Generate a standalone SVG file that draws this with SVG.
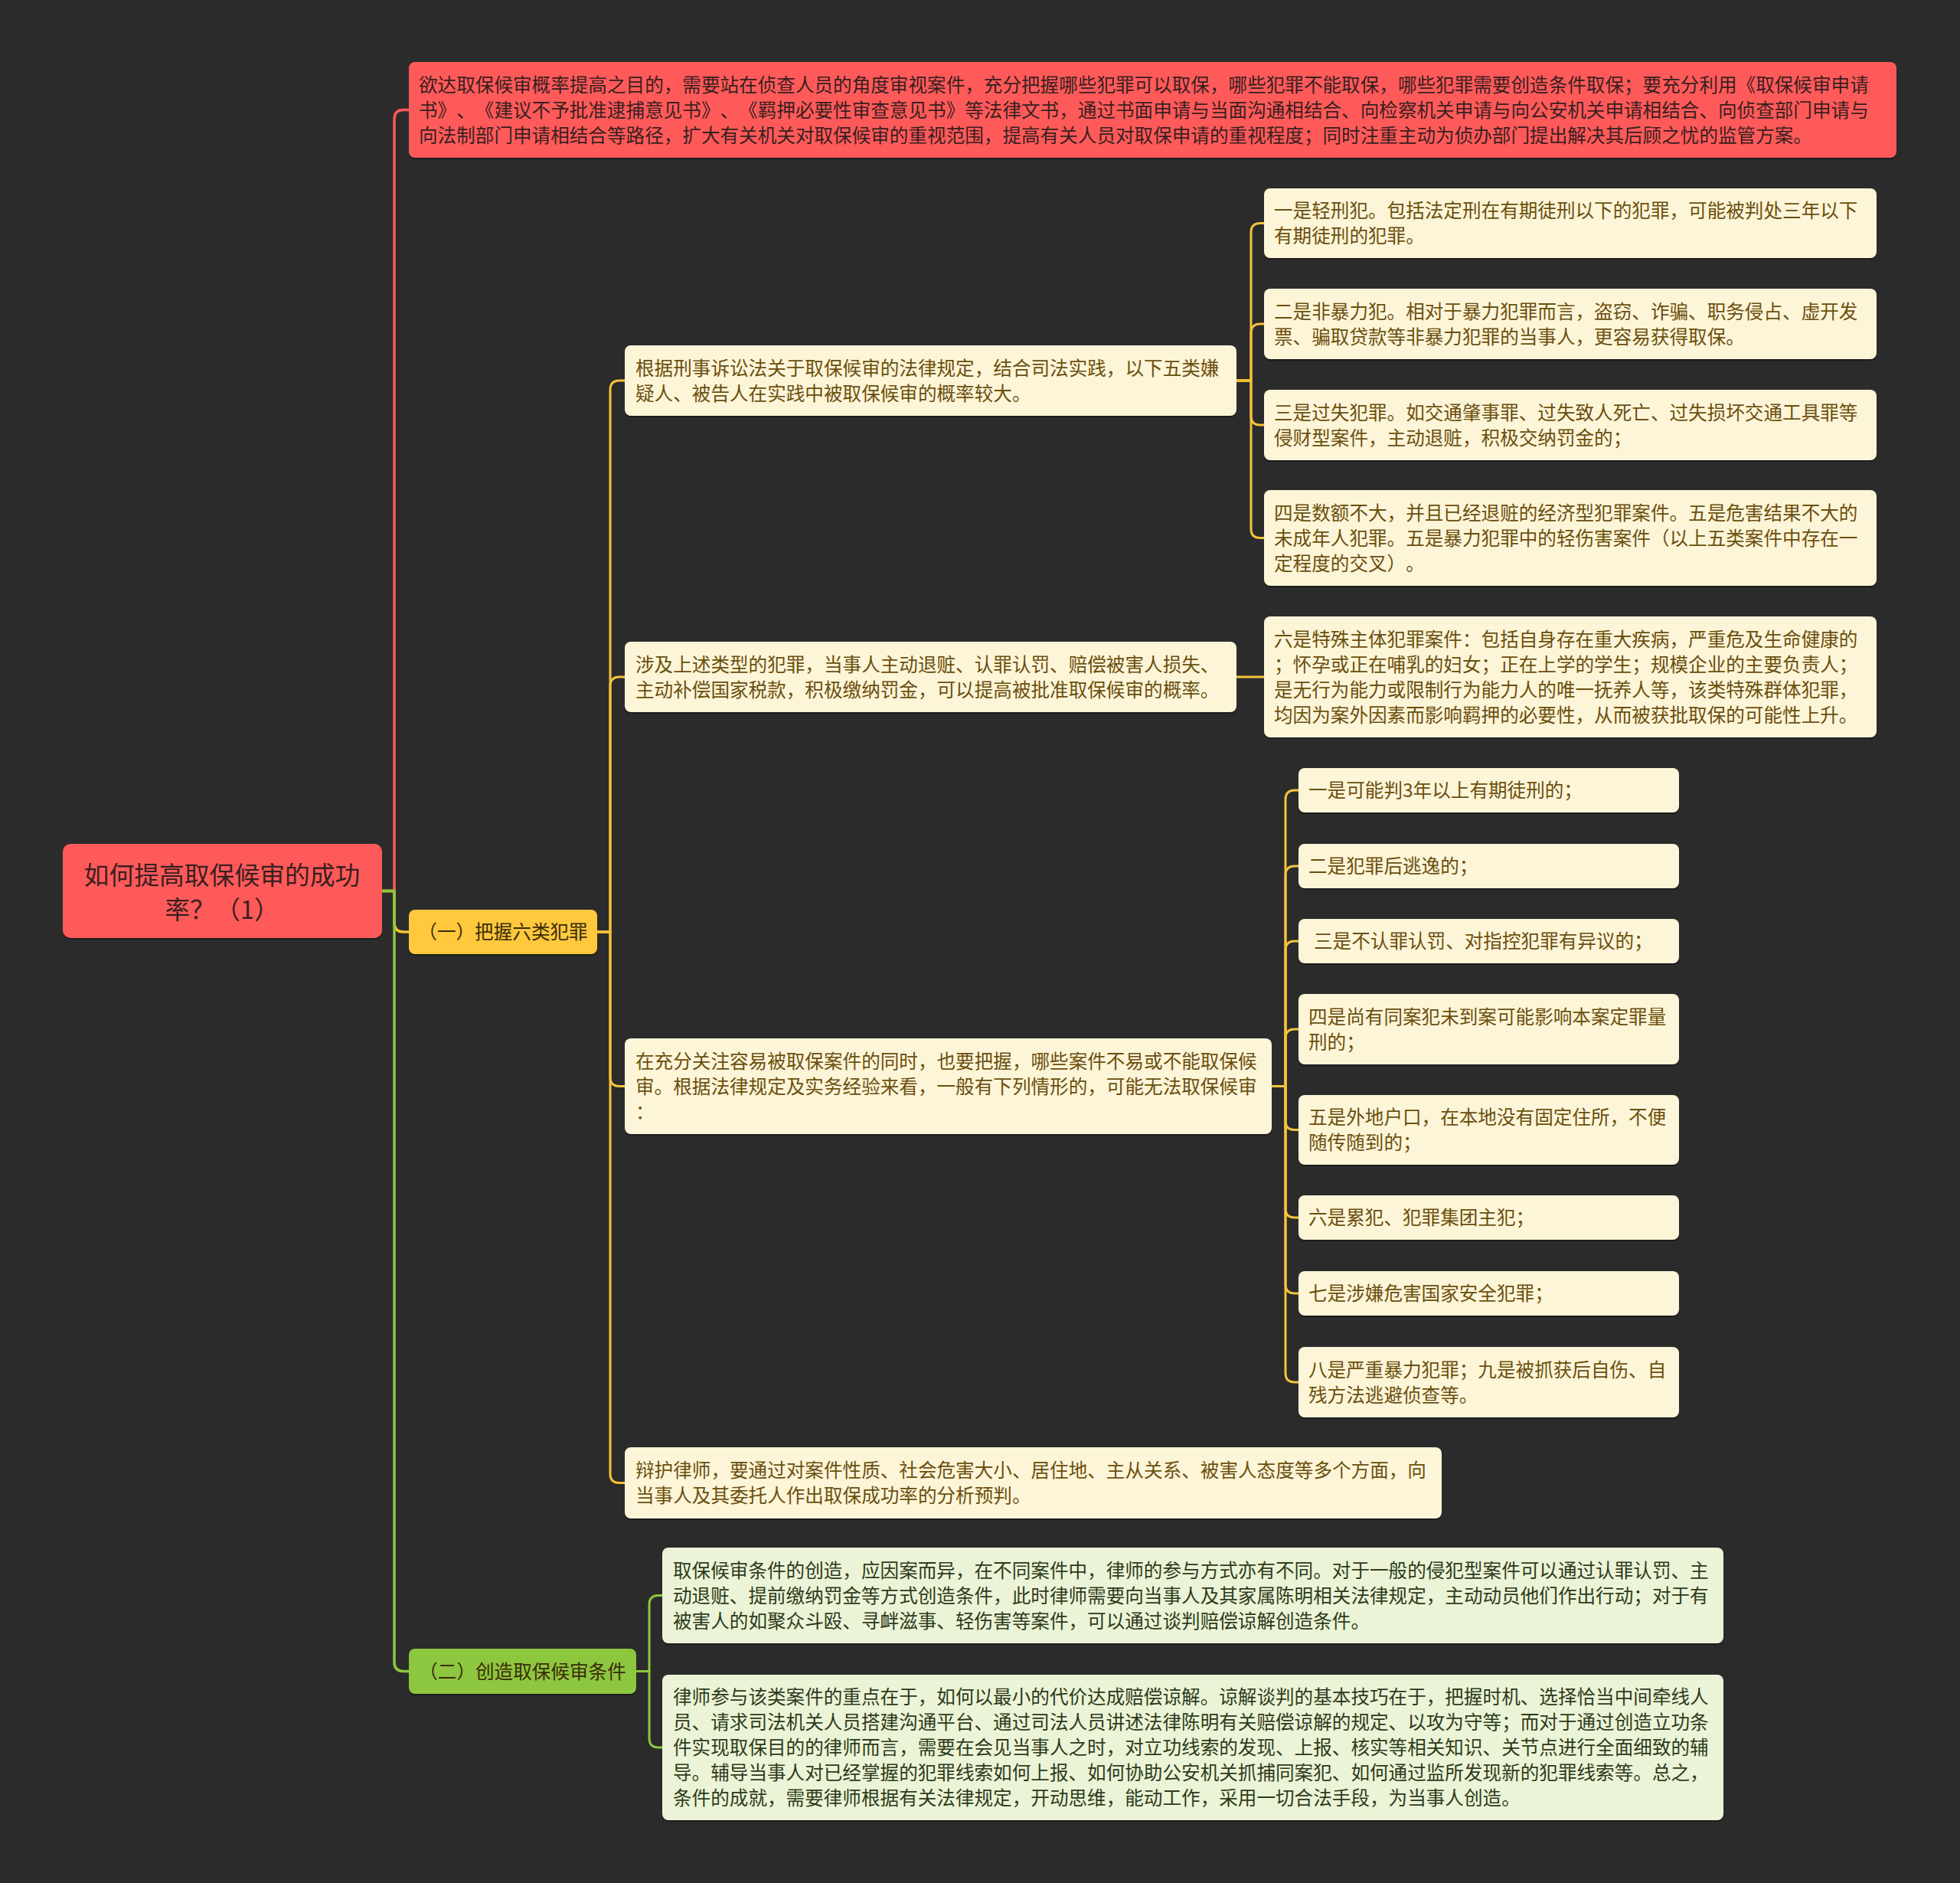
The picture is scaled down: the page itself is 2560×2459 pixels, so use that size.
<svg xmlns="http://www.w3.org/2000/svg" width="2560" height="2459" viewBox="0 0 2560 2459">
<style>
text{font-family:"Noto Sans CJK SC","Noto Sans",sans-serif;font-size:24.6px;text-spacing-trim:space-all;font-kerning:none;font-feature-settings:"palt" 0,"halt" 0,"chws" 0}
.root{font-size:32.8px;fill:#3a1f1f}
.tr{fill:#3a1f1f}
.ty{fill:#3b2c08}
.tc{fill:#6b4f0e}
.tg{fill:#2e3a1c}
.sh{fill:#1b1b1b}
.red{fill:#ff5a5a}
.yel{fill:#ffc83d}
.grn{fill:#8dc63f}
.crm{fill:#fdf5d8}
.lgr{fill:#ebf4d6}
.c{fill:none;stroke-width:3;stroke-linejoin:round}
.cr{stroke:#ff5a5a;stroke-width:3.5}
.cy{stroke:#f5c33b}
.cg{stroke:#8dc63f;stroke-width:3.5}
</style>
<rect x="0" y="0" width="2560" height="2459" fill="#2b2b2b"/>

<g id="connectors">
  <path class="c cr" d="M499,1163.5 H515 V155.5 Q515,143.5 527,143.5 H534"/>
  <path class="c cy" style="stroke-width:3.5" d="M499,1163.5 H515 V1205 Q515,1217 527,1217 H534"/>
  <path class="c cg" d="M499,1163.5 H515 V2170.5 Q515,2182.5 527,2182.5 H534"/>

  <path class="c cy" d="M780,1217 H797 V509 Q797,497 809,497 H816"/>
  <path class="c cy" d="M780,1217 H797 V896 Q797,884 809,884 H816"/>
  <path class="c cy" d="M780,1217 H797 V1406.5 Q797,1418.5 809,1418.5 H816"/>
  <path class="c cy" d="M780,1217 H797 V1924.5 Q797,1936.5 809,1936.5 H816"/>

  <path class="c cy" d="M1615,497 H1634 V303.5 Q1634,291.5 1646,291.5 H1651"/>
  <path class="c cy" d="M1615,497 H1634 V435 Q1634,423 1646,423 H1651"/>
  <path class="c cy" d="M1615,497 H1634 V543 Q1634,555 1646,555 H1651"/>
  <path class="c cy" d="M1615,497 H1634 V690.5 Q1634,702.5 1646,702.5 H1651"/>

  <path class="c cy" d="M1615,884 H1651"/>

  <path class="c cy" d="M1661,1418.5 H1679 V1044 Q1679,1032 1691,1032 H1696"/>
  <path class="c cy" d="M1661,1418.5 H1679 V1143 Q1679,1131 1691,1131 H1696"/>
  <path class="c cy" d="M1661,1418.5 H1679 V1241 Q1679,1229 1691,1229 H1696"/>
  <path class="c cy" d="M1661,1418.5 H1679 V1356 Q1679,1344 1691,1344 H1696"/>
  <path class="c cy" d="M1661,1418.5 H1679 V1463.5 Q1679,1475.5 1691,1475.5 H1696"/>
  <path class="c cy" d="M1661,1418.5 H1679 V1578 Q1679,1590 1691,1590 H1696"/>
  <path class="c cy" d="M1661,1418.5 H1679 V1677 Q1679,1689 1691,1689 H1696"/>
  <path class="c cy" d="M1661,1418.5 H1679 V1793 Q1679,1805 1691,1805 H1696"/>

  <path class="c cg" style="stroke-width:3" d="M831,2182.5 H848 V2095.5 Q848,2083.5 860,2083.5 H865"/>
  <path class="c cg" style="stroke-width:3" d="M831,2182.5 H848 V2270 Q848,2282 860,2282 H865"/>
</g>

<g id="root">
  <rect class="sh" x="82" y="1104" width="417" height="123" rx="10"/>
  <rect class="red" x="82" y="1102" width="417" height="123" rx="10"/>
  <text class="root" x="290" y="1155" text-anchor="middle">如何提高取保候审的成功</text>
  <text class="root" x="290" y="1200" text-anchor="middle">率？（1）</text>
</g>

<g id="top-note">
  <rect class="sh" x="534" y="83" width="1943" height="125" rx="8"/>
  <rect class="red" x="534" y="81" width="1943" height="125" rx="8"/>
  <text class="tr" x="547" y="119.5">欲达取保候审概率提高之目的，需要站在侦查人员的角度审视案件，充分把握哪些犯罪可以取保，哪些犯罪不能取保，哪些犯罪需要创造条件取保；要充分利用《取保候审申请</text>
  <text class="tr" x="547" y="152.5">书》、《建议不予批准逮捕意见书》、《羁押必要性审查意见书》等法律文书，通过书面申请与当面沟通相结合、向检察机关申请与向公安机关申请相结合、向侦查部门申请与</text>
  <text class="tr" x="547" y="185.5">向法制部门申请相结合等路径，扩大有关机关对取保候审的重视范围，提高有关人员对取保申请的重视程度；同时注重主动为侦办部门提出解决其后顾之忧的监管方案。</text>
</g>

<g id="branch1">
  <rect class="sh" x="534" y="1190" width="246" height="58" rx="8"/>
  <rect class="yel" x="534" y="1188" width="246" height="58" rx="8"/>
  <text class="ty" x="657" y="1226" text-anchor="middle">（一）把握六类犯罪</text>
</g>

<g id="branch2">
  <rect class="sh" x="534" y="2155" width="297" height="59" rx="8"/>
  <rect class="grn" x="534" y="2153" width="297" height="59" rx="8"/>
  <text class="ty" x="682.5" y="2191.5" text-anchor="middle">（二）创造取保候审条件</text>
</g>

<g id="nodeA">
  <rect class="sh" x="816" y="453" width="799" height="92" rx="8"/>
  <rect class="crm" x="816" y="451" width="799" height="92" rx="8"/>
  <text class="tc" x="830" y="489.5">根据刑事诉讼法关于取保候审的法律规定，结合司法实践，以下五类嫌</text>
  <text class="tc" x="830" y="522.5">疑人、被告人在实践中被取保候审的概率较大。</text>
</g>

<g id="nodeA1">
  <rect class="sh" x="1651" y="248" width="800" height="91" rx="8"/>
  <rect class="crm" x="1651" y="246" width="800" height="91" rx="8"/>
  <text class="tc" x="1664" y="284">一是轻刑犯。包括法定刑在有期徒刑以下的犯罪，可能被判处三年以下</text>
  <text class="tc" x="1664" y="317">有期徒刑的犯罪。</text>
</g>

<g id="nodeA2">
  <rect class="sh" x="1651" y="379" width="800" height="92" rx="8"/>
  <rect class="crm" x="1651" y="377" width="800" height="92" rx="8"/>
  <text class="tc" x="1664" y="415.5">二是非暴力犯。相对于暴力犯罪而言，盗窃、诈骗、职务侵占、虚开发</text>
  <text class="tc" x="1664" y="448.5">票、骗取贷款等非暴力犯罪的当事人，更容易获得取保。</text>
</g>

<g id="nodeA3">
  <rect class="sh" x="1651" y="511" width="800" height="92" rx="8"/>
  <rect class="crm" x="1651" y="509" width="800" height="92" rx="8"/>
  <text class="tc" x="1664" y="547.5">三是过失犯罪。如交通肇事罪、过失致人死亡、过失损坏交通工具罪等</text>
  <text class="tc" x="1664" y="580.5">侵财型案件，主动退赃，积极交纳罚金的；</text>
</g>

<g id="nodeA4">
  <rect class="sh" x="1651" y="642" width="800" height="125" rx="8"/>
  <rect class="crm" x="1651" y="640" width="800" height="125" rx="8"/>
  <text class="tc" x="1664" y="678.5">四是数额不大，并且已经退赃的经济型犯罪案件。五是危害结果不大的</text>
  <text class="tc" x="1664" y="711.5">未成年人犯罪。五是暴力犯罪中的轻伤害案件（以上五类案件中存在一</text>
  <text class="tc" x="1664" y="744.5">定程度的交叉）。</text>
</g>

<g id="nodeB">
  <rect class="sh" x="816" y="840" width="799" height="92" rx="8"/>
  <rect class="crm" x="816" y="838" width="799" height="92" rx="8"/>
  <text class="tc" x="830" y="876.5">涉及上述类型的犯罪，当事人主动退赃、认罪认罚、赔偿被害人损失、</text>
  <text class="tc" x="830" y="909.5">主动补偿国家税款，积极缴纳罚金，可以提高被批准取保候审的概率。</text>
</g>

<g id="nodeB1">
  <rect class="sh" x="1651" y="807" width="800" height="158" rx="8"/>
  <rect class="crm" x="1651" y="805" width="800" height="158" rx="8"/>
  <text class="tc" x="1664" y="843.5">六是特殊主体犯罪案件：包括自身存在重大疾病，严重危及生命健康的</text>
  <text class="tc" x="1664" y="876.5">；怀孕或正在哺乳的妇女；正在上学的学生；规模企业的主要负责人；</text>
  <text class="tc" x="1664" y="909.5">是无行为能力或限制行为能力人的唯一抚养人等，该类特殊群体犯罪，</text>
  <text class="tc" x="1664" y="942.5">均因为案外因素而影响羁押的必要性，从而被获批取保的可能性上升。</text>
</g>

<g id="nodeC">
  <rect class="sh" x="816" y="1358" width="845" height="125" rx="8"/>
  <rect class="crm" x="816" y="1356" width="845" height="125" rx="8"/>
  <text class="tc" x="830" y="1394.5">在充分关注容易被取保案件的同时，也要把握，哪些案件不易或不能取保候</text>
  <text class="tc" x="830" y="1427.5">审。根据法律规定及实务经验来看，一般有下列情形的，可能无法取保候审</text>
  <text class="tc" x="830" y="1460.5">：</text>
</g>

<g id="nodeC1">
  <rect class="sh" x="1696" y="1005" width="497" height="58" rx="8"/>
  <rect class="crm" x="1696" y="1003" width="497" height="58" rx="8"/>
  <text class="tc" x="1709" y="1041">一是可能判3年以上有期徒刑的；</text>
</g>
<g id="nodeC2">
  <rect class="sh" x="1696" y="1104" width="497" height="58" rx="8"/>
  <rect class="crm" x="1696" y="1102" width="497" height="58" rx="8"/>
  <text class="tc" x="1709" y="1140">二是犯罪后逃逸的；</text>
</g>
<g id="nodeC3">
  <rect class="sh" x="1696" y="1202" width="497" height="58" rx="8"/>
  <rect class="crm" x="1696" y="1200" width="497" height="58" rx="8"/>
  <text class="tc" x="1716" y="1238">三是不认罪认罚、对指控犯罪有异议的；</text>
</g>
<g id="nodeC4">
  <rect class="sh" x="1696" y="1300" width="497" height="92" rx="8"/>
  <rect class="crm" x="1696" y="1298" width="497" height="92" rx="8"/>
  <text class="tc" x="1709" y="1336.5">四是尚有同案犯未到案可能影响本案定罪量</text>
  <text class="tc" x="1709" y="1369.5">刑的；</text>
</g>
<g id="nodeC5">
  <rect class="sh" x="1696" y="1432" width="497" height="91" rx="8"/>
  <rect class="crm" x="1696" y="1430" width="497" height="91" rx="8"/>
  <text class="tc" x="1709" y="1468">五是外地户口，在本地没有固定住所，不便</text>
  <text class="tc" x="1709" y="1501">随传随到的；</text>
</g>
<g id="nodeC6">
  <rect class="sh" x="1696" y="1563" width="497" height="58" rx="8"/>
  <rect class="crm" x="1696" y="1561" width="497" height="58" rx="8"/>
  <text class="tc" x="1709" y="1599">六是累犯、犯罪集团主犯；</text>
</g>
<g id="nodeC7">
  <rect class="sh" x="1696" y="1662" width="497" height="58" rx="8"/>
  <rect class="crm" x="1696" y="1660" width="497" height="58" rx="8"/>
  <text class="tc" x="1709" y="1698">七是涉嫌危害国家安全犯罪；</text>
</g>
<g id="nodeC8">
  <rect class="sh" x="1696" y="1761" width="497" height="92" rx="8"/>
  <rect class="crm" x="1696" y="1759" width="497" height="92" rx="8"/>
  <text class="tc" x="1709" y="1797.5">八是严重暴力犯罪；九是被抓获后自伤、自</text>
  <text class="tc" x="1709" y="1830.5">残方法逃避侦查等。</text>
</g>

<g id="nodeD">
  <rect class="sh" x="816" y="1892" width="1067" height="93" rx="8"/>
  <rect class="crm" x="816" y="1890" width="1067" height="93" rx="8"/>
  <text class="tc" x="830" y="1929">辩护律师，要通过对案件性质、社会危害大小、居住地、主从关系、被害人态度等多个方面，向</text>
  <text class="tc" x="830" y="1962">当事人及其委托人作出取保成功率的分析预判。</text>
</g>

<g id="nodeE">
  <rect class="sh" x="865" y="2023" width="1386" height="125" rx="8"/>
  <rect class="lgr" x="865" y="2021" width="1386" height="125" rx="8"/>
  <text class="tg" x="879" y="2059.5">取保候审条件的创造，应因案而异，在不同案件中，律师的参与方式亦有不同。对于一般的侵犯型案件可以通过认罪认罚、主</text>
  <text class="tg" x="879" y="2092.5">动退赃、提前缴纳罚金等方式创造条件，此时律师需要向当事人及其家属陈明相关法律规定，主动动员他们作出行动；对于有</text>
  <text class="tg" x="879" y="2125.5">被害人的如聚众斗殴、寻衅滋事、轻伤害等案件，可以通过谈判赔偿谅解创造条件。</text>
</g>

<g id="nodeF">
  <rect class="sh" x="865" y="2189" width="1386" height="190" rx="8"/>
  <rect class="lgr" x="865" y="2187" width="1386" height="190" rx="8"/>
  <text class="tg" x="879" y="2225">律师参与该类案件的重点在于，如何以最小的代价达成赔偿谅解。谅解谈判的基本技巧在于，把握时机、选择恰当中间牵线人</text>
  <text class="tg" x="879" y="2258">员、请求司法机关人员搭建沟通平台、通过司法人员讲述法律陈明有关赔偿谅解的规定、以攻为守等；而对于通过创造立功条</text>
  <text class="tg" x="879" y="2291">件实现取保目的的律师而言，需要在会见当事人之时，对立功线索的发现、上报、核实等相关知识、关节点进行全面细致的辅</text>
  <text class="tg" x="879" y="2324">导。辅导当事人对已经掌握的犯罪线索如何上报、如何协助公安机关抓捕同案犯、如何通过监所发现新的犯罪线索等。总之，</text>
  <text class="tg" x="879" y="2357">条件的成就，需要律师根据有关法律规定，开动思维，能动工作，采用一切合法手段，为当事人创造。</text>
</g>
</svg>
